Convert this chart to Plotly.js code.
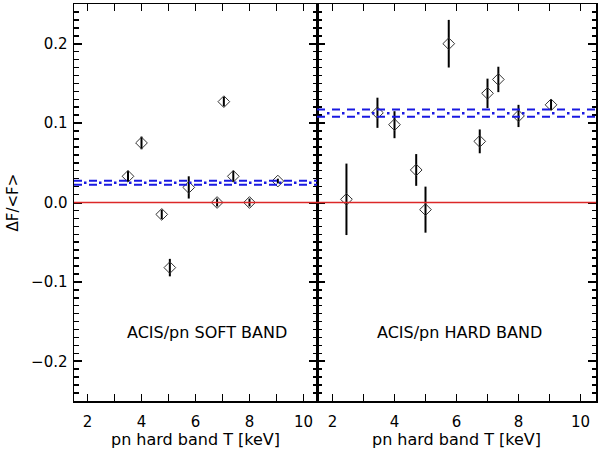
<!DOCTYPE html>
<html>
<head>
<meta charset="utf-8">
<script src="https://cdn.plot.ly/plotly-3.0.1.min.js"></script>
<style>
html,body{margin:0;padding:0;background:#fff;}
#chart{width:600px;height:450px;}
</style>
</head>
<body>
<div id="chart"></div>
<script>
// ---- data ----
var softT   = [3.5, 4.0, 4.75, 5.05, 5.75, 6.8, 7.05, 7.4, 8.0, 9.05];
var softDF  = [0.033, 0.075, -0.015, -0.082, 0.019, 0.0, 0.127, 0.033, 0.0, 0.027];
var softErr = [0.007, 0.008, 0.006, 0.011, 0.014, 0.005, 0.006, 0.007, 0.005, 0.003];

var hardT   = [2.45, 3.45, 4.0, 4.7, 5.0, 5.75, 6.75, 7.0, 7.35, 8.0, 9.05];
var hardDF  = [0.004, 0.113, 0.098, 0.041, -0.009, 0.2, 0.077, 0.1375, 0.155, 0.109, 0.123];
var hardErr = [0.045, 0.019, 0.017, 0.02, 0.029, 0.03, 0.015, 0.0185, 0.016, 0.014, 0.0065];

// mean level and its range for each band: [lower, mean, upper]
var softMean = [0.0223, 0.0248, 0.0273];
var hardMean = [0.108, 0.1125, 0.117];
var zeroLevel = 0;

var panelLabels = ["ACIS/pn SOFT BAND", "ACIS/pn HARD BAND"];
var xTitle = "pn hard band T [keV]";
var yTitle = "\u0394F/<F>";

var FONT = "DejaVu Sans";

function pts(x, y, e, xa, ya) {
  return {
    x: x, y: y, xaxis: xa, yaxis: ya, type: "scatter", mode: "markers",
    marker: {symbol: "diamond-open", size: 9, color: "#333", line: {width: 1, color: "#333"}},
    error_y: {type: "data", array: e, visible: true, thickness: 2, width: 0, color: "#000"},
    showlegend: false, hoverinfo: "skip"
  };
}

var data = [
  pts(softT, softDF, softErr, "x", "y"),
  pts(hardT, hardDF, hardErr, "x2", "y2")
];

var BLUE = "rgb(25,25,225)";
function hline(xref, yref, yv, color, dash, w) {
  return {type: "line", xref: xref + " domain", yref: yref, x0: 0, x1: 1, y0: yv, y1: yv,
          line: {color: color, width: w, dash: dash}, layer: "above"};
}
var shapes = [];
[["x", "y", softMean], ["x2", "y2", hardMean]].forEach(function (p) {
  shapes.push(hline(p[0], p[1], zeroLevel, "rgb(220,40,40)", "solid", 1.5));
  shapes.push(hline(p[0], p[1], p[2][0], BLUE, "8px,7px", 2));
  shapes.push(hline(p[0], p[1], p[2][2], BLUE, "8px,7px", 2));
  shapes.push(hline(p[0], p[1], p[2][1], BLUE, "0px,10px,2.5px,2.5px", 2.5));
});

function xax(domain, anchor) {
  return {
    domain: domain, anchor: anchor, range: [1.5, 10.5],
    showgrid: false, zeroline: false, showline: true, linecolor: "#000", linewidth: 1.5,
    mirror: "ticks", ticks: "inside", ticklen: 7, tickwidth: 1.5, tickcolor: "#000",
    tick0: 2, dtick: 2,
    minor: {dtick: 1, tick0: 1, ticks: "inside", ticklen: 7, tickwidth: 1.5, tickcolor: "#000", showgrid: false},
    tickfont: {family: FONT, size: 15, color: "#000"},
    ticklabelstandoff: 6,
    title: {text: xTitle, font: {family: FONT, size: 16, color: "#000"}, standoff: 2}
  };
}
function yax(anchor, labels, matches) {
  var a = {
    anchor: anchor, domain: [0, 1], range: [-0.25, 0.25],
    showgrid: false, zeroline: false, showline: true, linecolor: "#000", linewidth: 1.5,
    mirror: "ticks", ticks: "inside", ticklen: 8, tickwidth: 2, tickcolor: "#000",
    tick0: 0, dtick: 0.1, tickformat: ".1f",
    minor: {dtick: 0.01, ticks: "inside", ticklen: 4.5, tickwidth: 1.5, tickcolor: "#000", showgrid: false},
    showticklabels: labels,
    tickfont: {family: FONT, size: 15, color: "#000"},
    ticklabelstandoff: 2
  };
  if (matches) a.matches = matches;
  return a;
}

var split = 243 / 522;
var layout = {
  width: 600, height: 450,
  margin: {l: 74, r: 4, t: 4, b: 49, pad: 0},
  paper_bgcolor: "#fff", plot_bgcolor: "#fff",
  font: {family: FONT, size: 15, color: "#000"},
  xaxis: xax([0, split], "y"),
  xaxis2: xax([split, 1], "y2"),
  yaxis: yax("x", true),
  yaxis2: yax("x2", false, "y"),
  shapes: shapes,
  annotations: [
    {xref: "x", yref: "y", x: 6.43, y: -0.1635, text: panelLabels[0], showarrow: false,
     xanchor: "center", yanchor: "middle", font: {family: FONT, size: 16, color: "#000"}},
    {xref: "x2", yref: "y2", x: 6.09, y: -0.1635, text: panelLabels[1], showarrow: false,
     xanchor: "center", yanchor: "middle", font: {family: FONT, size: 16, color: "#000"}},
    {xref: "paper", yref: "paper", x: (12 - 74) / 522, y: 0.5, text: yTitle, textangle: -90,
     showarrow: false, xanchor: "center", yanchor: "middle", font: {family: FONT, size: 15, color: "#000"}}
  ]
};

Plotly.newPlot("chart", data, layout, {staticPlot: true, displayModeBar: false});
</script>
</body>
</html>
